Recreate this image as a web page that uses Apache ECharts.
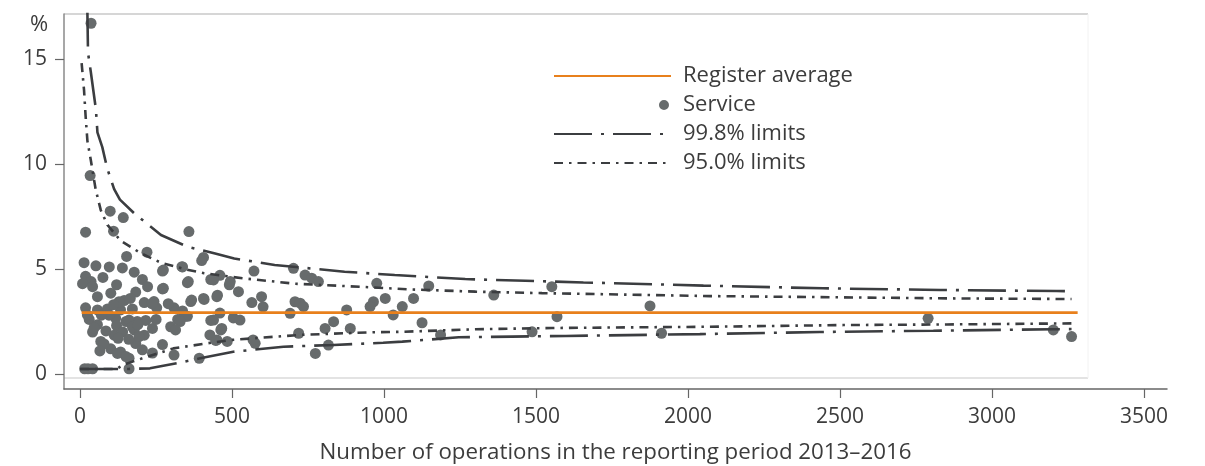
<!DOCTYPE html>
<html>
<head>
<meta charset="utf-8">
<script src="https://cdn.jsdelivr.net/npm/echarts@6/dist/echarts.min.js"></script>
<style>
html,body{margin:0;padding:0;background:#fff;}
#chart{width:1205px;height:466px;}
</style>
</head>
<body>
<div id="chart"></div>
<script>
// ---- data ----
const xTicks = [0, 500, 1000, 1500, 2000, 2500, 3000, 3500];
const yTicks = [0, 5, 10, 15];
const xAxisTitle = 'Number of operations in the reporting period 2013\u20132016';
const yAxisTitle = '%';
const registerAverage = 2.92;
const averageRange = [5, 3282];

// services: [number of operations, %]
const services = [
  [36,16.7],[33,9.45],[99,7.75],[142,7.45],[18,6.75],[110,6.8],[358,6.78],
  [153,5.6],[220,5.8],[13,5.3],[52,5.15],[96,5.1],[139,5.05],[178,4.85],[271,4.9],[337,5.1],[406,5.55],[400,5.4],
  [18,4.65],[36,4.4],[205,4.5],[353,4.35],[430,4.5],[460,4.7],[491,4.25],
  [101,3.85],[183,3.9],[271,4.05],[452,3.75],[145,3.5],[211,3.4],[243,3.45],[364,3.45],[408,3.55],
  [18,3.15],[57,3.05],[90,3.1],[133,3.05],[172,3.1],[309,3.15],[337,3.0],[252,3.15],[236,3.35],
  [30,2.6],[57,2.35],[117,2.65],[151,2.5],[188,2.5],[216,2.55],[321,2.6],[353,2.75],[430,2.55],[345,2.75],[329,2.5],
  [41,2.0],[112,1.85],[178,2.1],[211,1.85],[298,2.25],[314,2.1],[463,2.1],
  [68,1.55],[101,1.2],[133,1.05],[183,1.45],[205,1.15],[238,1.0],[271,1.4],[309,0.9],[392,0.75],[446,1.6],[484,1.55],[161,0.75],
  [15,0.25],[26,0.25],[41,0.25],[161,0.25],
  [24,2.81],[46,2.19],[79,1.43],[123,0.98],[151,0.83],[8,4.3],[41,4.16],[57,3.68],[222,4.16],[128,3.44],
  [161,2.57],[172,2.25],[194,1.78],[238,2.17],[274,4.95],[335,5.11],[356,4.4],[274,4.08],[367,3.52],
  [95,2.8],[120,2.3],[140,2.0],[125,1.7],[160,1.65],[190,2.35],[85,2.05],[70,2.8],[110,3.3],[165,3.6],
  [75,4.6],[120,4.25],[250,2.6],[290,3.35],[65,1.1],
  [439,4.48],[494,4.4],[521,3.92],[572,4.9],[597,3.68],[565,3.4],[602,3.2],[406,3.6],[450,3.68],[460,2.9],
  [439,2.57],[504,2.67],[526,2.57],[466,2.17],[427,1.86],[450,1.62],[576,1.46],[569,1.62],
  [702,5.03],[740,4.71],[762,4.56],[784,4.4],[707,3.44],[724,3.37],[735,3.21],[691,2.89],[834,2.49],[806,2.17],
  [889,2.17],[719,1.94],[774,0.98],[817,1.38],[877,3.05],[965,3.44],[1004,3.6],[976,4.32],[954,3.21],[1030,2.81],
  [1060,3.21],[1097,3.6],[1147,4.19],[1125,2.44],[1186,1.86],[1361,3.76],[1552,4.16],[1569,2.73],[1487,2.01],
  [1875,3.24],[1913,1.94],[2790,2.65],[3202,2.1],[3262,1.78]
];

// control limits: [number of operations, %]
const upper998 = [[23,17.4],[24,17.2],[26,15.3],[35,14.4],[52,12.6],[57,11.5],[73,10.8],[89,9.8],[112,8.8],[131,8.3],
  [178,7.65],[266,6.62],[353,6.06],[441,5.75],[507,5.5],[640,5.19],[870,4.87],[1035,4.71],[1267,4.52],[1465,4.44],
  [1656,4.36],[2051,4.21],[2444,4.08],[2830,4.0],[3213,3.95],[3262,3.94]];
const lower998 = [[0,0.24],[160,0.24],[230,0.27],[318,0.51],[395,0.75],[504,1.06],[669,1.3],[834,1.38],[997,1.49],
  [1060,1.54],[1246,1.75],[1421,1.78],[1597,1.81],[2039,1.9],[2434,2.0],[2807,2.06],[3202,2.13],[3262,2.14]];
const upper950 = [[5,14.8],[13,13.5],[18,12.3],[24,11.1],[35,10.2],[51,8.8],[68,7.8],[90,7.1],[133,6.35],[200,5.75],
  [266,5.3],[342,5.0],[408,4.8],[496,4.63],[541,4.55],[706,4.3],[925,4.15],[1081,4.03],[1301,3.92],[1520,3.85],
  [2072,3.71],[2511,3.65],[2851,3.6],[3262,3.57]];
const lower950 = [[0,0.24],[120,0.24],[145,0.45],[172,0.59],[255,0.98],[307,1.22],[418,1.46],[496,1.62],[570,1.7],
  [724,1.86],[943,1.98],[1060,2.01],[1301,2.13],[1553,2.19],[2072,2.25],[2511,2.33],[2851,2.36],[3262,2.41]];

// ---- chart ----
const FONT = '"Open Sans", "Noto Sans", sans-serif';
const TXT = '#3c3c3c';
const LIM = '#3b3d40';
const chart = echarts.init(document.getElementById('chart'), null, {renderer: 'canvas'});

const style998 = {color: LIM, width: 2.6, type: [38, 9, 3, 9]};
const style950 = {color: LIM, width: 2.6, type: [9, 6, 2.5, 6]};
const hideSym = {opacity: 0};

chart.setOption({
  animation: false,
  backgroundColor: '#fff',
  textStyle: {fontFamily: FONT},
  grid: {left: 64, right: 38, top: 14, bottom: 77, containLabel: false, outerBoundsMode: 'none'},
  legend: {
    orient: 'vertical',
    left: 548, top: 60,
    itemWidth: 117, itemHeight: 10, itemGap: 7,
    textStyle: {fontFamily: FONT, fontSize: 22, color: TXT, lineHeight: 20, padding: [0, 0, 0, 7]},
    data: [
      {name: 'Register average', itemStyle: hideSym},
      {name: 'Service', icon: 'path://M0,0L0.001,0M117,0L117.001,0M105,0a5,5 0 1,0 10,0a5,5 0 1,0 -10,0Z'},
      {name: '99.8% limits', itemStyle: hideSym},
      {name: '95.0% limits', itemStyle: hideSym}
    ]
  },
  xAxis: {
    type: 'value', min: -53, max: 3576,
    name: xAxisTitle, nameLocation: 'middle', nameGap: 53,
    nameTextStyle: {fontFamily: FONT, fontSize: 22.3, color: TXT},
    axisLine: {show: true, onZero: false, lineStyle: {color: '#666', width: 1.5}},
    axisTick: {show: true, length: 9, customValues: xTicks, lineStyle: {color: '#666', width: 1.2}},
    axisLabel: {customValues: xTicks, margin: 18, fontFamily: FONT, fontSize: 21, color: TXT,
      formatter: function (v) { return String(v); }},
    splitLine: {show: false}
  },
  yAxis: {
    type: 'value', min: -0.714, max: 17.14,
    axisLine: {show: true, onZero: false, lineStyle: {color: '#8a8a8a', width: 1.5}},
    axisTick: {show: true, length: 9, customValues: yTicks, lineStyle: {color: '#666', width: 1.2}},
    axisLabel: {customValues: yTicks, margin: 17, fontFamily: FONT, fontSize: 21, color: TXT,
      formatter: function (v) { return String(v); }},
    splitLine: {show: false}
  },
  graphic: [
    {type: 'line', shape: {x1: 64, y1: 14, x2: 1088, y2: 14}, style: {stroke: '#c8c8c8', lineWidth: 1.5}, z: 0},
    {type: 'line', shape: {x1: 64, y1: 378, x2: 1088, y2: 378}, style: {stroke: '#c8c8c8', lineWidth: 1.2}, z: 0},
    {type: 'line', shape: {x1: 1088, y1: 14, x2: 1088, y2: 378}, style: {stroke: '#f2f2f2', lineWidth: 1}, z: 0},
    {type: 'text', left: 30, top: 14, style: {text: yAxisTitle, font: '22px ' + FONT, fill: TXT}}
  ],
  series: [
    {name: 'Service', type: 'scatter', data: services, symbol: 'circle', symbolSize: 11,
     itemStyle: {color: '#676b6c', opacity: 1}, z: 2},
    {name: '99.8% limits', type: 'line', data: upper998, showSymbol: false, symbol: 'none',
     lineStyle: style998, itemStyle: {color: LIM}, z: 3},
    {name: '99.8% limits', type: 'line', data: lower998, showSymbol: false, symbol: 'none',
     lineStyle: style998, itemStyle: {color: LIM}, z: 3},
    {name: '95.0% limits', type: 'line', data: upper950, showSymbol: false, symbol: 'none',
     lineStyle: style950, itemStyle: {color: LIM}, z: 3},
    {name: '95.0% limits', type: 'line', data: lower950, showSymbol: false, symbol: 'none',
     lineStyle: style950, itemStyle: {color: LIM}, z: 3},
    {name: 'Register average', type: 'line',
     data: averageRange.map(function (n) { return [n, registerAverage]; }),
     showSymbol: false, symbol: 'none', lineStyle: {color: '#e8801c', width: 2.8}, itemStyle: {color: '#e8801c'}, z: 4}
  ]
});
</script>
</body>
</html>
